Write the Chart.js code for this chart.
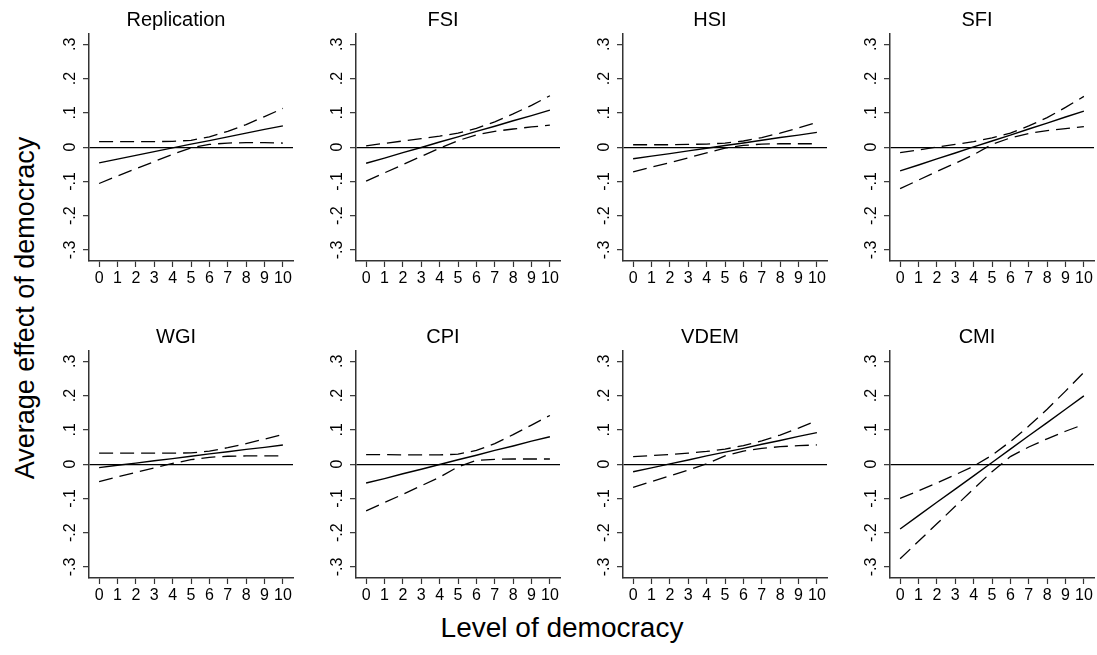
<!DOCTYPE html>
<html>
<head>
<meta charset="utf-8">
<title>Average effect of democracy</title>
<script src="https://cdn.jsdelivr.net/npm/chart.js@4.4.1/dist/chart.umd.min.js"></script>
<style>
  body {
    margin: 0;
    background: #fff;
    width: 1097px;
    height: 655px;
    position: relative;
    overflow: hidden;
    font-family: "Liberation Sans", Arial, sans-serif;
  }
  canvas { position: absolute; }
  .axis-title {
    position: absolute;
    color: #000;
    white-space: nowrap;
  }
  #ytitle { font-size: 27px; left: 25px; top: 308px; transform: translate(-50%, -50%) rotate(-90deg); }
  #xtitle { font-size: 28px; left: 562px; top: 628px; transform: translate(-50%, -50%); }
</style>
</head>
<body>
<div class="axis-title" id="ytitle">Average effect of democracy</div>
<div class="axis-title" id="xtitle">Level of democracy</div>

<script>
// democracy levels on the x axis
const levels = [0, 1, 2, 3, 4, 5, 6, 7, 8, 9, 10];
const xTickLabels = ['0', '1', '2', '3', '4', '5', '6', '7', '8', '9', '10'];
const yTickLabels = ['-.3', '-.2', '-.1', '0', '.1', '.2', '.3'];

const panelTitles = ['Replication', 'FSI', 'HSI', 'SFI', 'WGI', 'CPI', 'VDEM', 'CMI'];

// estimate, upper and lower bound for each index
const replicationEst = [-0.046, -0.035, -0.024, -0.013, -0.002, 0.009, 0.019, 0.030, 0.041, 0.052, 0.062];
const replicationHi  = [0.016, 0.016, 0.016, 0.016, 0.017, 0.020, 0.030, 0.046, 0.066, 0.089, 0.113];
const replicationLo  = [-0.106, -0.084, -0.063, -0.042, -0.021, -0.002, 0.008, 0.012, 0.013, 0.013, 0.012];

const fsiEst = [-0.047, -0.032, -0.016, -0.001, 0.015, 0.030, 0.046, 0.061, 0.077, 0.092, 0.108];
const fsiHi  = [0.004, 0.011, 0.018, 0.025, 0.032, 0.041, 0.055, 0.074, 0.097, 0.122, 0.150];
const fsiLo  = [-0.099, -0.075, -0.051, -0.027, -0.003, 0.019, 0.036, 0.046, 0.053, 0.059, 0.064];

const hsiEst = [-0.034, -0.026, -0.019, -0.011, -0.003, 0.005, 0.012, 0.020, 0.028, 0.035, 0.043];
const hsiHi  = [0.007, 0.007, 0.007, 0.008, 0.009, 0.012, 0.018, 0.028, 0.041, 0.056, 0.072];
const hsiLo  = [-0.072, -0.058, -0.045, -0.031, -0.017, -0.003, 0.005, 0.009, 0.010, 0.010, 0.010];

const sfiEst = [-0.069, -0.052, -0.034, -0.017, 0.001, 0.018, 0.035, 0.053, 0.070, 0.088, 0.105];
const sfiHi  = [-0.016, -0.008, 0.000, 0.008, 0.016, 0.027, 0.041, 0.062, 0.086, 0.116, 0.148];
const sfiLo  = [-0.121, -0.096, -0.071, -0.047, -0.022, 0.008, 0.027, 0.040, 0.048, 0.054, 0.060];

const wgiEst = [-0.010, -0.003, 0.003, 0.010, 0.016, 0.023, 0.030, 0.036, 0.043, 0.049, 0.056];
const wgiHi  = [0.032, 0.032, 0.032, 0.032, 0.032, 0.033, 0.038, 0.048, 0.060, 0.073, 0.087];
const wgiLo  = [-0.051, -0.037, -0.024, -0.011, 0.002, 0.013, 0.020, 0.023, 0.024, 0.024, 0.024];

const cpiEst = [-0.055, -0.042, -0.028, -0.015, -0.001, 0.013, 0.026, 0.040, 0.053, 0.067, 0.080];
const cpiHi  = [0.028, 0.028, 0.027, 0.027, 0.027, 0.029, 0.040, 0.060, 0.086, 0.114, 0.142];
const cpiLo  = [-0.136, -0.112, -0.088, -0.063, -0.038, -0.008, 0.011, 0.014, 0.015, 0.015, 0.015];

const vdemEst = [-0.022, -0.011, 0.001, 0.012, 0.024, 0.035, 0.046, 0.058, 0.069, 0.081, 0.092];
const vdemHi  = [0.022, 0.025, 0.028, 0.032, 0.037, 0.044, 0.054, 0.068, 0.085, 0.105, 0.127];
const vdemLo  = [-0.068, -0.051, -0.034, -0.017, 0.001, 0.024, 0.038, 0.046, 0.051, 0.054, 0.056];

const cmiEst = [-0.189, -0.150, -0.111, -0.073, -0.034, 0.005, 0.044, 0.083, 0.121, 0.160, 0.199];
const cmiHi  = [-0.100, -0.078, -0.055, -0.031, -0.006, 0.026, 0.066, 0.111, 0.160, 0.213, 0.268];
const cmiLo  = [-0.276, -0.225, -0.174, -0.123, -0.072, -0.022, 0.022, 0.050, 0.074, 0.096, 0.116];

const panelSeries = [
    [replicationEst, replicationHi, replicationLo],
    [fsiEst, fsiHi, fsiLo],
    [hsiEst, hsiHi, hsiLo],
    [sfiEst, sfiHi, sfiLo],
    [wgiEst, wgiHi, wgiLo],
    [cpiEst, cpiHi, cpiLo],
    [vdemEst, vdemHi, vdemLo],
    [cmiEst, cmiHi, cmiLo]
];

Chart.defaults.font.family = '"Liberation Sans", Arial, sans-serif';
Chart.defaults.color = '#000';

const AXIS_COLOR = '#333';
const PANEL_W = 236, PANEL_H = 291;
const COL_STEP = 267, ROW_STEP = 317, FIRST_LEFT = 59;

function toPoints(values) {
    return levels.map((x, i) => ({ x: x, y: values[i] }));
}

function lineDataset(values, dashed) {
    return {
        data: toPoints(values),
        borderColor: '#000',
        borderWidth: dashed ? 1.3 : 1.4,
        borderDash: dashed ? [14, 7] : [],
        pointRadius: 0,
        tension: 0,
        fill: false
    };
}

function createPanel(index) {
    const col = index % 4, row = Math.floor(index / 4);
    const canvas = document.createElement('canvas');
    canvas.width = PANEL_W;
    canvas.height = PANEL_H;
    canvas.style.left = (FIRST_LEFT + col * COL_STEP) + 'px';
    canvas.style.top = (row * ROW_STEP) + 'px';
    document.body.appendChild(canvas);

    const [est, hi, lo] = panelSeries[index];

    return new Chart(canvas, {
        type: 'line',
        data: {
            datasets: [lineDataset(est, false), lineDataset(hi, true), lineDataset(lo, true)]
        },
        options: {
            responsive: false,
            animation: false,
            layout: { padding: { right: 2 } },
            plugins: {
                legend: { display: false },
                tooltip: { enabled: false },
                title: {
                    display: true,
                    text: panelTitles[index],
                    color: '#000',
                    font: { size: 20, weight: 'normal' },
                    padding: { top: 8, bottom: 2 }
                }
            },
            scales: {
                x: {
                    type: 'linear',
                    min: -0.55,
                    max: 10.55,
                    ticks: {
                        stepSize: 1,
                        includeBounds: false,
                        autoSkip: false,
                        maxRotation: 0,
                        padding: 2,
                        font: { size: 16 },
                        callback: (v) => xTickLabels[Math.round(v)]
                    },
                    grid: {
                        drawOnChartArea: false,
                        tickLength: 6,
                        tickColor: AXIS_COLOR,
                        tickWidth: 1.2
                    },
                    border: { color: AXIS_COLOR, width: 1.5 },
                    afterFit: (scale) => { scale.height = 30; }
                },
                y: {
                    min: -0.332,
                    max: 0.33,
                    ticks: {
                        stepSize: 0.1,
                        includeBounds: false,
                        minRotation: 90,
                        maxRotation: 90,
                        crossAlign: 'center',
                        padding: 3,
                        font: { size: 16 },
                        callback: (v) => yTickLabels[Math.round(v * 10) + 3]
                    },
                    grid: {
                        // only the zero reference line is drawn inside the plot
                        color: (ctx) => (ctx.tick && Math.round(ctx.tick.value * 10) === 0) ? '#000' : 'rgba(0,0,0,0)',
                        lineWidth: 1.3,
                        tickLength: 6,
                        tickColor: AXIS_COLOR,
                        tickWidth: 1.2
                    },
                    border: { color: AXIS_COLOR, width: 1.5 },
                    afterFit: (scale) => { scale.width = 30; }
                }
            }
        }
    });
}

const panels = panelTitles.map((t, i) => createPanel(i));
</script>
</body>
</html>
